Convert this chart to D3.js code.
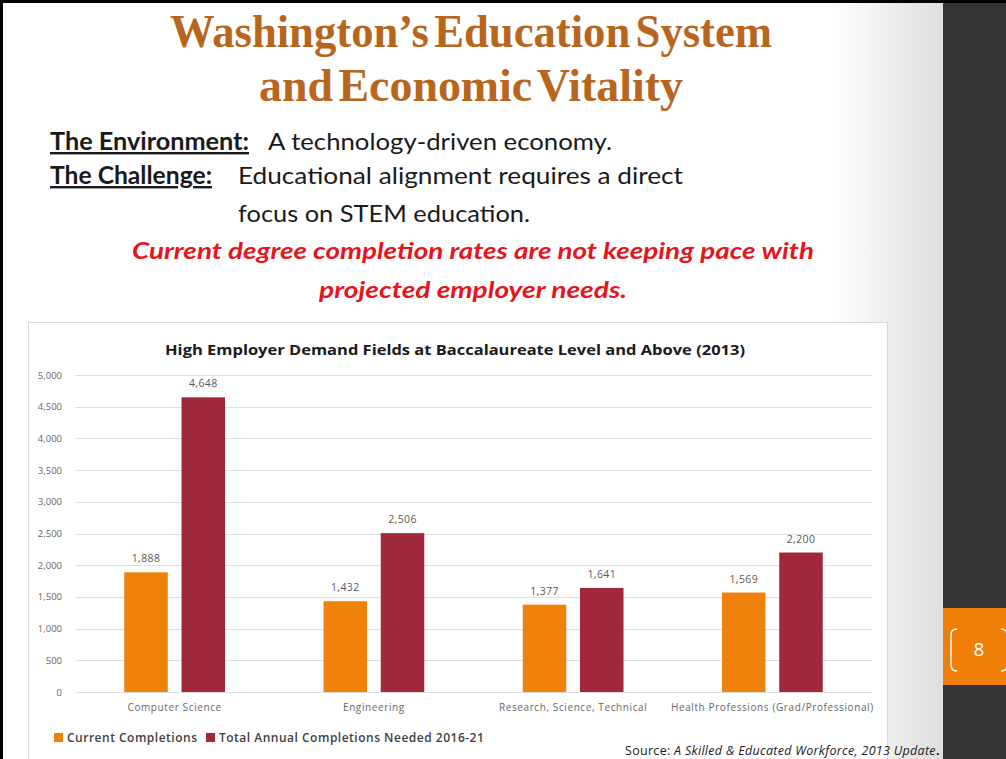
<!DOCTYPE html>
<html>
<head>
<meta charset="utf-8">
<script src="https://cdn.jsdelivr.net/npm/d3@7"></script>
<style>
  body { margin: 0; background: #000; }
  svg { display: block; }
</style>
</head>
<body>
<svg width="1006" height="759"></svg>
<script>
// chart data
let categories = ["Computer Science", "Engineering", "Research, Science, Technical", "Health Professions (Grad/Professional)"];
let seriesNames = ["Current Completions", "Total Annual Completions Needed 2016-21"];
let currentCompletions = [1888, 1432, 1377, 1569];
let neededCompletions = [4648, 2506, 1641, 2200];
let yTicks = [0, 500, 1000, 1500, 2000, 2500, 3000, 3500, 4000, 4500, 5000];
let colors = ["#f0820c", "#a0283a"];

let svg = d3.select("svg");

// slide background
let defs = svg.append("defs");
let grad = defs.append("linearGradient").attr("id", "slideGrad");
grad.append("stop").attr("offset", "0%").attr("stop-color", "#ffffff");
grad.append("stop").attr("offset", "88%").attr("stop-color", "#ffffff");
grad.append("stop").attr("offset", "100%").attr("stop-color", "#dedede");

svg.append("rect").attr("x", 3).attr("y", 3).attr("width", 940).attr("height", 756)
    .attr("fill", "url(#slideGrad)");
svg.append("rect").attr("x", 943).attr("y", 3).attr("width", 63).attr("height", 756)
    .attr("fill", "#333333");

// page number tab
svg.append("rect").attr("x", 943).attr("y", 608).attr("width", 63).attr("height", 77)
    .attr("fill", "#f07f0a");
svg.append("path").attr("d", "M957,629 Q951,629 951,635 L951,665 Q951,671 957,671")
    .attr("fill", "none").attr("stroke", "#fff").attr("stroke-width", 1.5);
svg.append("path").attr("d", "M1001,629 Q1007,629 1007,635 L1007,665 Q1007,671 1001,671")
    .attr("fill", "none").attr("stroke", "#fff").attr("stroke-width", 1.5);
svg.append("text").attr("x", 979).attr("y", 656).attr("text-anchor", "middle")
    .style("font-family", "Open Sans").style("font-size", "19px").attr("fill", "#fff")
    .text("8");

// slide title
let titleLines = ["Washington\u2019s Education System", "and Economic Vitality"];
svg.selectAll(".title").data(titleLines).enter().append("text")
    .classed("title", true)
    .attr("x", 471)
    .attr("y", (d, i) => 47 + i * 54)
    .attr("text-anchor", "middle")
    .attr("textLength", (d, i) => i === 0 ? 602 : 424)
    .attr("lengthAdjust", "spacingAndGlyphs")
    .style("font-family", "Liberation Serif")
    .style("font-weight", "bold")
    .style("font-size", "46px")
    .style("word-spacing", "-6px")
    .attr("fill", "#b8661e")
    .text(d => d);

// body text
let bodyLines = [
    { t: "The Environment:", x: 50, y: 150, w: 199, head: true },
    { t: "A technology-driven economy.", x: 268, y: 150, w: 344 },
    { t: "The Challenge:", x: 50, y: 184, w: 162, head: true },
    { t: "Educational alignment requires a direct", x: 238, y: 184, w: 445 },
    { t: "focus on STEM education.", x: 238, y: 222, w: 292 }
];
svg.selectAll(".body").data(bodyLines).enter().append("text")
    .classed("body", true)
    .attr("x", d => d.x).attr("y", d => d.y)
    .attr("textLength", d => d.w)
    .attr("lengthAdjust", "spacingAndGlyphs")
    .style("font-family", "Lato").style("font-size", "24px")
    .style("font-weight", d => d.head ? "bold" : "normal")
    .style("text-decoration", d => d.head ? "underline" : "none")
    .attr("fill", "#1a1a1a")
    .text(d => d.t);

let redLines = ["Current degree completion rates are not keeping pace with", "projected employer needs."];
svg.selectAll(".red").data(redLines).enter().append("text")
    .classed("red", true)
    .attr("x", 473)
    .attr("y", (d, i) => 259 + i * 39)
    .attr("text-anchor", "middle")
    .attr("textLength", (d, i) => i === 0 ? 682 : 308)
    .attr("lengthAdjust", "spacingAndGlyphs")
    .style("font-family", "Lato")
    .style("font-weight", "bold")
    .style("font-style", "italic")
    .style("font-size", "23px")
    .attr("fill", "#e8141c")
    .text(d => d);

// chart box
svg.append("rect").attr("x", 28.5).attr("y", 322.5).attr("width", 859).attr("height", 440)
    .attr("fill", "#fff").attr("stroke", "#d9d9d9");

svg.append("text").attr("x", 455).attr("y", 355).attr("text-anchor", "middle")
    .attr("textLength", 580).attr("lengthAdjust", "spacingAndGlyphs")
    .style("font-family", "Open Sans").style("font-weight", "bold").style("font-size", "14px")
    .attr("fill", "#1a1a1a")
    .text("High Employer Demand Fields at Baccalaureate Level and Above (2013)");

let margin = { left: 75, right: 872, top: 375, bottom: 692 };

let x = d3.scaleBand().domain(categories).range([margin.left, margin.right]);
let xs = d3.scaleBand().domain(seriesNames).range([0, x.bandwidth()]).paddingInner(0.24).paddingOuter(0.86);
let y = d3.scaleLinear().domain([0, 5000]).range([margin.bottom, margin.top]);

let g = svg.append("g");

// gridlines
g.selectAll(".grid").data(yTicks).enter().append("line")
    .attr("x1", margin.left).attr("x2", margin.right)
    .attr("y1", d => Math.round(y(d)) + 0.5).attr("y2", d => Math.round(y(d)) + 0.5)
    .attr("stroke", "#e0e0e0");

// y axis labels
let yAxis = g.append("g").attr("transform", "translate(" + (margin.left - 10) + ",0)")
    .call(d3.axisLeft(y).tickValues(yTicks).tickSize(0).tickFormat(d3.format(",")));
yAxis.select(".domain").remove();
yAxis.selectAll("text").style("font-family", "Open Sans").style("font-size", "9.5px").attr("fill", "#666");

// x axis labels
let xAxis = g.append("g").attr("transform", "translate(0," + margin.bottom + ")")
    .call(d3.axisBottom(x).tickSize(0).tickPadding(12));
xAxis.select(".domain").remove();
xAxis.selectAll("text").style("font-family", "Open Sans").style("font-size", "10px")
    .style("letter-spacing", "0.6px").attr("fill", "#666");

// bars
let rows = categories.map((c, i) => ({ cat: c, values: [currentCompletions[i], neededCompletions[i]] }));
let groups = g.selectAll(".cat").data(rows).enter().append("g")
    .attr("transform", d => "translate(" + x(d.cat) + ",0)");
groups.selectAll("rect").data(d => d.values.map((v, j) => ({ s: seriesNames[j], v: v, j: j })))
    .enter().append("rect")
    .attr("x", d => xs(d.s))
    .attr("y", d => y(d.v))
    .attr("width", xs.bandwidth())
    .attr("height", d => y(0) - y(d.v))
    .attr("fill", d => colors[d.j]);
groups.selectAll(".lbl").data(d => d.values.map((v, j) => ({ s: seriesNames[j], v: v })))
    .enter().append("text")
    .attr("x", d => xs(d.s) + xs.bandwidth() / 2)
    .attr("y", d => y(d.v) - 10)
    .attr("text-anchor", "middle")
    .style("font-family", "Open Sans").style("font-size", "10.5px").style("letter-spacing", "0.4px")
    .attr("fill", "#595959")
    .text(d => d3.format(",")(d.v));

// legend
let legendX = [54, 206];
let leg = svg.selectAll(".leg").data(seriesNames).enter().append("g")
    .attr("transform", (d, i) => "translate(" + legendX[i] + ",733)");
leg.append("rect").attr("width", 9).attr("height", 9).attr("fill", (d, i) => colors[i]);
leg.append("text").attr("x", 13).attr("y", 9)
    .style("font-family", "Open Sans").style("font-weight", "600").style("font-size", "12px")
    .style("letter-spacing", "0.5px")
    .attr("fill", "#404040").text(d => d);

// source note
let src = svg.append("text").attr("x", 625).attr("y", 755)
    .style("font-family", "Open Sans").style("font-size", "12.5px").style("letter-spacing", "0.3px")
    .attr("fill", "#1a1a1a");
src.append("tspan").text("Source: ");
src.append("tspan").style("font-style", "italic").text("A Skilled & Educated Workforce, 2013 Update");
src.append("tspan").style("font-weight", "bold").text(".");
</script>
</body>
</html>
